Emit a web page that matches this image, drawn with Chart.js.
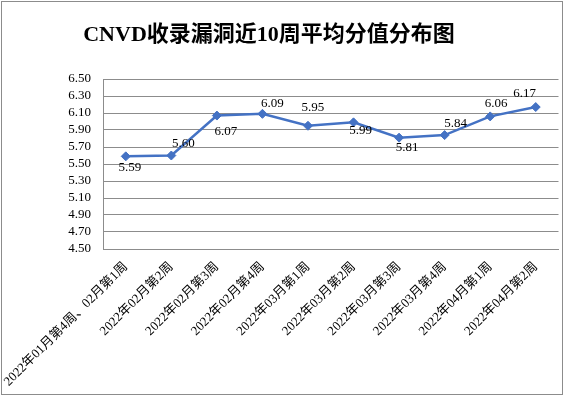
<!DOCTYPE html>
<html>
<head>
<meta charset="utf-8">
<script src="https://cdn.jsdelivr.net/npm/chart.js@4/dist/chart.umd.min.js"></script>
<style>
  body { margin: 0; background: #fff; }
</style>
</head>
<body>
<canvas id="c" width="564" height="397"></canvas>
<script>
const chartTitle = 'CNVD收录漏洞近10周平均分值分布图'
const weeks = [
	'2022年01月第4周、02月第1周',
	'2022年02月第2周',
	'2022年02月第3周',
	'2022年02月第4周',
	'2022年03月第1周',
	'2022年03月第2周',
	'2022年03月第3周',
	'2022年03月第4周',
	'2022年04月第1周',
	'2022年04月第2周'
]
const avgScores = [5.59, 5.60, 6.07, 6.09, 5.95, 5.99, 5.81, 5.84, 6.06, 6.17]
const yMin = 4.5
const yMax = 6.5
const yStep = 0.2

// where each value label sits relative to its point (dx, dy)
const labelOffsets = [
	[4, 11], [12, -12], [9, 16], [10, -10], [5, -18],
	[7, 8], [8, 10], [11, -12], [6, -13], [-11, -13]
]

const serif = '"Liberation Serif", "Noto Sans CJK SC", serif'
const lineColor = '#4472C4'
const gridColor = '#8c8c8c'

const decorations = {
	id: 'decorations',
	afterDatasetsDraw(chart) {
		const ctx = chart.ctx
		const meta = chart.getDatasetMeta(0)
		ctx.save()
		ctx.fillStyle = '#000'
		ctx.font = '13px ' + serif
		ctx.textAlign = 'center'
		ctx.textBaseline = 'middle'
		meta.data.forEach((pt, i) => {
			const off = labelOffsets[i]
			ctx.fillText(avgScores[i].toFixed(2), pt.x + off[0], pt.y + off[1])
		})
		ctx.restore()
	},
	afterDraw(chart) {
		const ctx = chart.ctx
		ctx.save()
		ctx.fillStyle = '#000'
		ctx.font = 'bold 22px ' + serif
		ctx.textAlign = 'center'
		ctx.textBaseline = 'middle'
		ctx.fillText(chartTitle, 269, 35)
		ctx.strokeStyle = gridColor
		ctx.lineWidth = 1
		ctx.strokeRect(1.5, 1.5, 561, 393)
		ctx.restore()
	}
}

new Chart(document.getElementById('c'), {
	type: 'line',
	data: {
		labels: weeks,
		datasets: [{
			data: avgScores,
			borderColor: lineColor,
			backgroundColor: lineColor,
			borderWidth: 2.5,
			tension: 0,
			pointStyle: 'rectRot',
			pointRadius: 4.5,
			pointBorderWidth: 1,
			pointBackgroundColor: lineColor,
			pointBorderColor: lineColor,
			clip: false
		}]
	},
	options: {
		responsive: false,
		animation: false,
		devicePixelRatio: 1,
		layout: { padding: { top: 79, left: 0, right: 1, bottom: 0 } },
		plugins: {
			legend: { display: false },
			title: { display: false },
			tooltip: { enabled: false }
		},
		scales: {
			x: {
				offset: true,
				grid: { display: false, drawTicks: false },
				border: { display: true, color: gridColor },
				ticks: {
					color: '#000',
					font: { family: serif, size: 13 },
					minRotation: 45,
					maxRotation: 45,
					autoSkip: false,
					padding: 10
				},
				afterFit(scale) {
					scale.height = 148
					scale.paddingLeft = 0
					scale.paddingRight = 0
				}
			},
			y: {
				min: yMin,
				max: yMax,
				grid: { color: gridColor, drawTicks: false },
				border: { display: true, color: gridColor },
				ticks: {
					stepSize: yStep,
					autoSkip: false,
					color: '#000',
					font: { family: serif, size: 13 },
					padding: 12,
					callback: v => Number(v).toFixed(2)
				},
				afterFit(scale) {
					scale.width = 103
				}
			}
		}
	},
	plugins: [decorations]
})
</script>
</body>
</html>
